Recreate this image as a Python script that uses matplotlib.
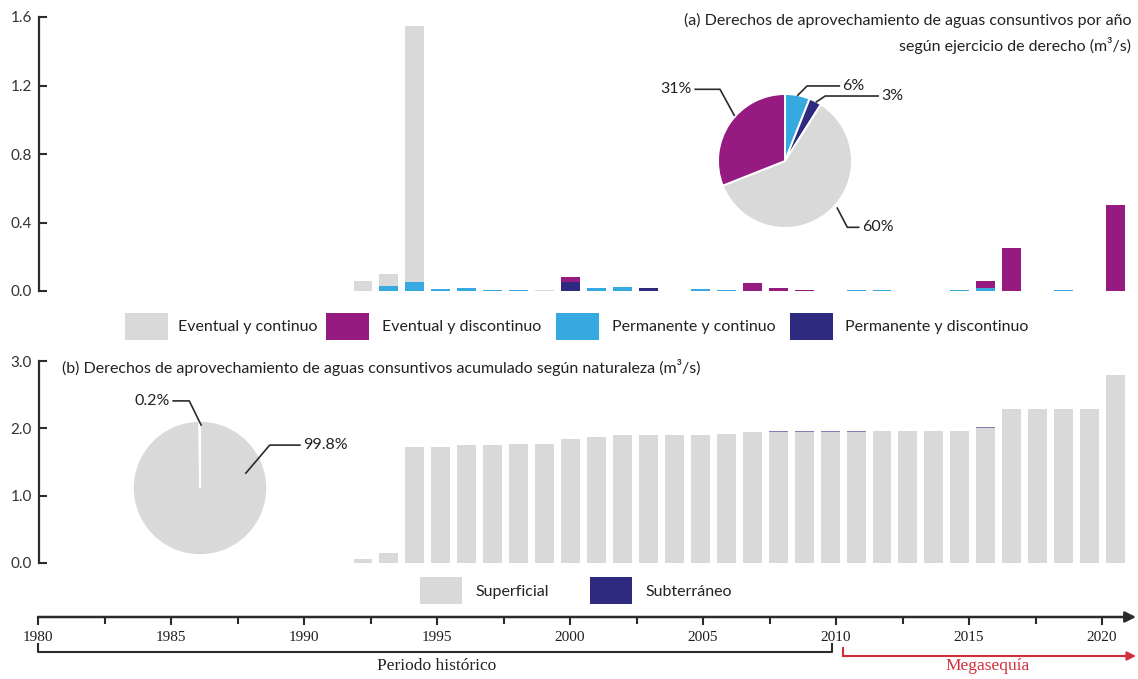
import numpy as np
import matplotlib
matplotlib.use("Agg")
import matplotlib.pyplot as plt
import matplotlib.transforms as mtransforms
from matplotlib.patches import Rectangle
from matplotlib.lines import Line2D

plt.rcParams['font.family'] = ['Lato', 'DejaVu Sans']

# ---------------- data ----------------
years = list(range(1992, 2022))

# (a) yearly consumptive water rights by exercise type (m3/s)
eventual_continuo = [0.06, 0.07, 1.50, 0, 0, 0, 0, 0.003, 0, 0,
                     0, 0, 0, 0, 0, 0, 0, 0, 0, 0,
                     0, 0, 0, 0, 0, 0, 0, 0, 0, 0]
eventual_discontinuo = [0, 0, 0, 0, 0, 0, 0, 0, 0.025, 0,
                        0, 0, 0, 0, 0, 0.045, 0.015, 0.006, 0, 0,
                        0, 0, 0, 0, 0.045, 0.25, 0, 0, 0, 0.50]
permanente_continuo = [0, 0.03, 0.05, 0.012, 0.02, 0.005, 0.005, 0, 0, 0.02,
                       0.025, 0, 0, 0.01, 0.006, 0, 0, 0, 0, 0.004,
                       0.004, 0, 0, 0.004, 0.015, 0, 0, 0.004, 0, 0]
permanente_discontinuo = [0, 0, 0, 0, 0, 0, 0, 0, 0.055, 0,
                          0, 0.015, 0, 0, 0, 0, 0, 0, 0, 0,
                          0, 0, 0, 0, 0, 0, 0, 0, 0, 0]

pie_a_labels = ['6%', '3%', '60%', '31%']
pie_a_values = [6, 3, 60, 31]   # perm. continuo, perm. discontinuo, ev. continuo, ev. discontinuo

# (b) accumulated rights by nature (m3/s)
superficial = [0.06, 0.15, 1.72, 1.73, 1.75, 1.75, 1.77, 1.77, 1.84, 1.87,
               1.90, 1.90, 1.90, 1.90, 1.92, 1.95, 1.95, 1.95, 1.95, 1.95,
               1.96, 1.96, 1.96, 1.96, 2.01, 2.29, 2.29, 2.29, 2.29, 2.79]
subterraneo = [0, 0, 0, 0, 0, 0, 0, 0, 0, 0,
               0, 0, 0, 0, 0, 0, 0.004, 0.004, 0.004, 0.004,
               0.004, 0.004, 0.004, 0.004, 0.004, 0.004, 0.004, 0.004, 0.004, 0.004]

pie_b_labels = ['99.8%', '0.2%']
pie_b_values = [99.8, 0.2]

top_ticks = [0.0, 0.4, 0.8, 1.2, 1.6]
bottom_ticks = [0.0, 1.0, 2.0, 3.0]
timeline_years = [1980, 1985, 1990, 1995, 2000, 2005, 2010, 2015, 2020]

# ---------------- style ----------------
GRAY = '#d9d9d9'
PURPLE = '#951b81'
BLUE = '#36a9e1'
NAVY = '#2d2a7f'
RED = '#d0303c'
INK = '#2b2b2b'
FS = 11.5

W, H = 1138, 679
fig = plt.figure(figsize=(W / 100, H / 100), dpi=100)


def fx(px):
    return px / W


def fy(py):
    return 1 - py / H


def axes_px(left, top, right, bottom):
    return fig.add_axes([fx(left), fy(bottom), (right - left) / W, (bottom - top) / H])


# bar positions: one slot per year
PX0, STEP = 363, 25.95
xlim_bars = (1992 + (39 - PX0) / STEP, 1992 + (1138 - PX0) / STEP)
BAR_W = 0.73


def style_value_axis(ax, ticks, ymax):
    for s in ('top', 'right', 'bottom'):
        ax.spines[s].set_visible(False)
    ax.spines['left'].set_linewidth(1.6)
    ax.spines['left'].set_color(INK)
    ax.set_xticks([])
    ax.set_yticks(ticks)
    ax.set_yticklabels([f'{t:.1f}' for t in ticks])
    ax.tick_params(axis='y', direction='in', length=6, width=1.5, color=INK,
                   labelsize=11, labelcolor='#333333', pad=5)
    ax.set_xlim(*xlim_bars)
    ax.set_ylim(0, ymax)
    ax.patch.set_alpha(0)


# ---------------- panel (a) ----------------
ax_a = axes_px(39, 17, 1138, 291)

stack_a = [(permanente_continuo, BLUE), (permanente_discontinuo, NAVY),
           (eventual_discontinuo, PURPLE), (eventual_continuo, GRAY)]
base = np.zeros(len(years))
for vals, col in stack_a:
    v = np.array(vals, dtype=float)
    ax_a.bar(years, v, width=BAR_W, bottom=base, color=col, linewidth=0)
    base += v
style_value_axis(ax_a, top_ticks, 1.6)

fig.text(fx(1131), fy(13),
         '(a) Derechos de aprovechamiento de aguas consuntivos por año\n'
         'según ejercicio de derecho (m³/s)',
         ha='right', va='top', fontsize=FS, color='#222222', linespacing=1.65)

# legend (a)
legend_a = [(GRAY, 'Eventual y continuo', 125, 178),
            (PURPLE, 'Eventual y discontinuo', 326, 382),
            (BLUE, 'Permanente y continuo', 556, 612),
            (NAVY, 'Permanente y discontinuo', 790, 845)]
for col, txt, px, tx in legend_a:
    fig.add_artist(Rectangle((fx(px), fy(340)), 43 / W, 27 / H, transform=fig.transFigure,
                             facecolor=col, edgecolor='none'))
    fig.text(fx(tx), fy(327), txt, ha='left', va='center', fontsize=FS, color='#222222')


# ---------------- pies ----------------
PAD = 1.6


def pie_axes(cx, cy, R):
    return axes_px(cx - PAD * R, cy - PAD * R, cx + PAD * R, cy + PAD * R)


def finish_pie(ax):
    ax.set_xlim(-PAD, PAD)
    ax.set_ylim(-PAD, PAD)
    ax.set_aspect('equal')
    ax.axis('off')


def leader(ax, ang, r, elbow, end_x, text, ha):
    a = np.deg2rad(ang)
    p0 = (r * np.cos(a), r * np.sin(a))
    ax.add_line(Line2D([p0[0], elbow[0], end_x], [p0[1], elbow[1], elbow[1]],
                       color=INK, lw=1.2, clip_on=False))
    off = 0.05 if ha == 'left' else -0.05
    ax.text(end_x + off, elbow[1], text, ha=ha, va='center', fontsize=FS,
            color='#222222', clip_on=False)


ax_pa = pie_axes(785, 161, 67)
ax_pa.pie(pie_a_values, colors=[BLUE, NAVY, GRAY, PURPLE], startangle=90,
          counterclock=False, radius=1.0,
          wedgeprops=dict(edgecolor='white', linewidth=1.4))
finish_pie(ax_pa)
leader(ax_pa, 79, 1.0, (0.33, 1.12), 0.81, pie_a_labels[0], 'left')
leader(ax_pa, 62, 1.0, (0.60, 0.97), 1.39, pie_a_labels[1], 'left')
leader(ax_pa, -42, 1.05, (0.93, -0.99), 1.10, pie_a_labels[2], 'left')
leader(ax_pa, 138, 1.02, (-0.97, 1.07), -1.34, pie_a_labels[3], 'right')

ax_pb = pie_axes(200, 488, 67)
ax_pb.pie(pie_b_values, colors=[GRAY, NAVY], startangle=90, counterclock=False,
          radius=1.0, wedgeprops=dict(edgecolor='white', linewidth=1.2))
finish_pie(ax_pb)
leader(ax_pb, 18, 0.72, (1.04, 0.64), 1.49, pie_b_labels[0], 'left')
leader(ax_pb, 89, 0.94, (-0.16, 1.30), -0.40, pie_b_labels[1], 'right')

# ---------------- panel (b) ----------------
ax_b = axes_px(39, 361, 1138, 563)
sup = np.array(superficial, dtype=float)
sub = np.array(subterraneo, dtype=float)
ax_b.bar(years, sup, width=BAR_W, color=GRAY, linewidth=0)
ax_b.bar(years, sub, width=BAR_W, bottom=sup, color=NAVY, alpha=0.6, linewidth=0)
style_value_axis(ax_b, bottom_ticks, 3.0)

fig.text(fx(62), fy(367),
         '(b) Derechos de aprovechamiento de aguas consuntivos acumulado según naturaleza (m³/s)',
         ha='left', va='center', fontsize=FS, color='#222222')

legend_b = [(GRAY, 'Superficial', 420, 475), (NAVY, 'Subterráneo', 590, 645)]
for col, txt, px, tx in legend_b:
    fig.add_artist(Rectangle((fx(px), fy(604)), 42 / W, 27 / H, transform=fig.transFigure,
                             facecolor=col, edgecolor='none'))
    fig.text(fx(tx), fy(592), txt, ha='left', va='center', fontsize=FS, color='#222222')

# ---------------- timeline ----------------
T0, TSTEP = 38, 26.6
t_end = 1980 + (1138 - T0) / TSTEP
ax_t = axes_px(T0, 616, 1138, 617)
for s in ax_t.spines.values():
    s.set_visible(False)
ax_t.patch.set_alpha(0)
ax_t.set_yticks([])
ax_t.set_xticks(timeline_years)
ax_t.set_xticklabels([str(y) for y in timeline_years])
ax_t.set_xticks([y + 2.5 for y in timeline_years if y + 2.5 < 2020], minor=True)
ax_t.set_xlim(1980, t_end)
ax_t.set_ylim(0, 1)
ax_t.tick_params(axis='x', which='major', direction='out', length=6, width=1.5,
                 color=INK, labelsize=11, pad=4)
ax_t.tick_params(axis='x', which='minor', direction='out', length=5, width=1.5, color=INK)
for lbl in ax_t.get_xticklabels():
    lbl.set_fontfamily('Liberation Serif')
    lbl.set_color('#1e1e1e')
ax_t.annotate('', xy=(1980 + (1136 - T0) / TSTEP, 0), xytext=(1980, 0),
              xycoords='data', textcoords='data', annotation_clip=False,
              arrowprops=dict(arrowstyle='-|>', color=INK, lw=1.8,
                              mutation_scale=16, shrinkA=0, shrinkB=0))

blend = mtransforms.blended_transform_factory(ax_t.transData, fig.transFigure)
hist_end = 2009.85
mega_start = 2010.25
fig.add_artist(Line2D([1980, 1980, hist_end, hist_end], [fy(644), fy(652), fy(652), fy(644)],
                      transform=blend, color=INK, lw=1.5))
fig.text(1995.0, fy(666), 'Periodo histórico', transform=blend, ha='center', va='center',
         fontsize=12.5, fontfamily='Liberation Serif', color='#222222')
fig.add_artist(Line2D([mega_start, mega_start], [fy(648), fy(656)],
                      transform=blend, color=RED, lw=1.5))
fig.add_artist(Line2D([mega_start, 1980 + (1126 - T0) / TSTEP], [fy(656), fy(656)],
                      transform=blend, color=RED, lw=1.5))
ax_t.annotate('', xy=(1980 + (1136 - T0) / TSTEP, fy(656)),
              xytext=(1980 + (1120 - T0) / TSTEP, fy(656)),
              xycoords=blend, textcoords=blend, annotation_clip=False,
              arrowprops=dict(arrowstyle='-|>', color=RED, lw=1.5,
                              mutation_scale=13, shrinkA=0, shrinkB=0))
fig.text(2015.7, fy(666), 'Megasequía', transform=blend, ha='center', va='center',
         fontsize=12.5, fontfamily='Liberation Serif', color=RED)

fig.savefig('out.png', dpi=100, facecolor='white')
